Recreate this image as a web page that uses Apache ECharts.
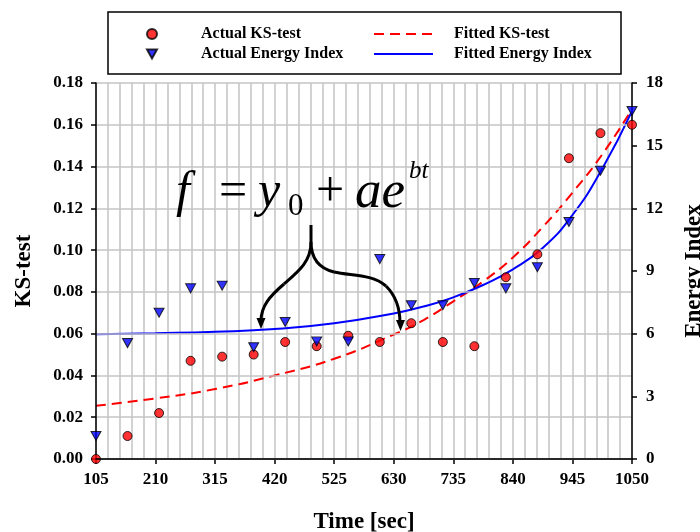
<!DOCTYPE html>
<html>
<head>
<meta charset="utf-8">
<script src="https://cdn.jsdelivr.net/npm/echarts@6/dist/echarts.min.js"></script>
<style>
  html, body { margin: 0; padding: 0; background: #fff; }
  #chart { width: 700px; height: 532px; }
</style>
</head>
<body>
<div id="chart"></div>
<script>
// time points (sec) of the measurements
var timeSec = [105, 160.6, 216.2, 271.8, 327.4, 383, 438.5, 494.1, 549.7, 605.3,
               660.9, 716.5, 772.1, 827.6, 883.2, 938.8, 994.4, 1050];
// actual KS-test values (left axis)
var ksActual = [0.000, 0.011, 0.022, 0.047, 0.049, 0.050, 0.056, 0.054, 0.059, 0.056,
                0.065, 0.056, 0.054, 0.087, 0.098, 0.144, 0.156, 0.160];
// actual energy index values (right axis)
var energyActual = [1.1, 5.55, 7.0, 8.17, 8.3, 5.35, 6.56, 5.63, 5.63, 9.57,
                    7.36, 7.36, 8.43, 8.17, 9.18, 11.35, 13.8, 16.66];

// fitted curves
var fitTime = [105, 210, 315, 420, 525, 630, 682.5, 735, 787.5, 840, 892.5, 945, 997.5, 1050];
var ksFitted = [0.0255, 0.029, 0.0335, 0.040, 0.048, 0.0596, 0.0665, 0.0755, 0.085, 0.0965, 0.111, 0.1275, 0.1458, 0.1675];
var energyFitted = [5.97, 6.02, 6.09, 6.22, 6.5, 6.97, 7.3, 7.74, 8.33, 9.08, 10.1, 11.68, 13.9, 16.65];

var xTicks = {min: 105, max: 1050, step: 105};

function pairs(xs, ys) {
    var out = [];
    for (var i = 0; i < xs.length; i++) {
        out.push([xs[i], ys[i]]);
    }
    return out;
}

var serif = '"Liberation Serif", "DejaVu Serif", serif';
var labelFont = {fontFamily: serif, fontWeight: 'bold', fontSize: 17, color: '#000'};
var nameFont = {fontFamily: serif, fontWeight: 'bold', fontSize: 23, color: '#000'};
var gridGray = '#c4c4c4';

function curve(p) {
    return {
        type: 'bezierCurve', z: 10,
        shape: {x1: p[0], y1: p[1], cpx1: p[2], cpy1: p[3], cpx2: p[4], cpy2: p[5], x2: p[6], y2: p[7]},
        style: {fill: null, stroke: '#000', lineWidth: 3}
    };
}

var chart = echarts.init(document.getElementById('chart'), null, {renderer: 'canvas'});

chart.setOption({
    animation: false,
    backgroundColor: '#fff',
    grid: {
        left: 96,
        right: 68,
        top: 83,
        bottom: 73,
        containLabel: false,
        outerBoundsMode: 'none',
        show: false
    },
    legend: [
        {
            data: ['Actual KS-test', 'Actual Energy Index'],
            orient: 'vertical',
            left: 146,
            top: 25,
            padding: 0,
            itemWidth: 10,
            itemHeight: 10,
            itemGap: 2,
            textStyle: Object.assign({lineHeight: 18, padding: [0, 0, 0, 39]}, labelFont, {fontSize: 16})
        },
        {
            data: ['Fitted KS-test', 'Fitted Energy Index'],
            orient: 'vertical',
            left: 373,
            top: 25,
            padding: 0,
            itemWidth: 59,
            itemHeight: 10,
            itemGap: 2,
            itemStyle: {color: 'rgba(0,0,0,0)', borderColor: 'rgba(0,0,0,0)', borderWidth: 0},
            textStyle: Object.assign({lineHeight: 18, padding: [0, 0, 0, 16]}, labelFont, {fontSize: 16})
        }
    ],
    xAxis: [
        {
            type: 'value',
            min: xTicks.min,
            max: xTicks.max,
            interval: xTicks.step,
            name: 'Time [sec]',
            nameLocation: 'middle',
            nameGap: 52,
            nameTextStyle: nameFont,
            axisLine: {show: true, onZero: false, lineStyle: {color: '#000', width: 1.5}},
            axisTick: {show: true, inside: false, length: 5, lineStyle: {color: '#000', width: 1.5}},
            axisLabel: Object.assign({
                margin: 12,
                showMinLabel: true,
                showMaxLabel: true,
                formatter: function (v) { return String(v); }
            }, labelFont),
            splitLine: {show: true, lineStyle: {color: gridGray, width: 1.5}},
            minorTick: {show: false, splitNumber: 5},
            minorSplitLine: {show: true, lineStyle: {color: gridGray, width: 1.5}}
        },
        {
            type: 'value',
            position: 'top',
            min: xTicks.min,
            max: xTicks.max,
            interval: xTicks.step,
            z: 5,
            axisLine: {show: true, lineStyle: {color: '#000', width: 1.5}},
            axisTick: {show: false},
            axisLabel: {show: false},
            splitLine: {show: false}
        }
    ],
    yAxis: [
        {
            type: 'value',
            min: 0,
            max: 0.18,
            interval: 0.02,
            z: 4,
            name: 'KS-test',
            nameLocation: 'middle',
            nameRotate: 90,
            nameGap: 60,
            nameTextStyle: nameFont,
            axisLine: {show: true, lineStyle: {color: '#000', width: 1.5}},
            axisTick: {show: true, inside: false, length: 5, lineStyle: {color: '#000', width: 1.5}},
            axisLabel: Object.assign({
                margin: 13,
                formatter: function (v) { return v.toFixed(2); }
            }, labelFont),
            splitLine: {show: true, lineStyle: {color: gridGray, width: 1.5}}
        },
        {
            type: 'value',
            position: 'right',
            min: 0,
            max: 18,
            interval: 3,
            z: 4,
            name: 'Energy Index',
            nameLocation: 'middle',
            nameRotate: 90,
            nameGap: 51,
            nameTextStyle: nameFont,
            axisLine: {show: true, lineStyle: {color: '#000', width: 1.5}},
            axisTick: {show: true, inside: false, length: 5, lineStyle: {color: '#000', width: 1.5}},
            axisLabel: Object.assign({margin: 14}, labelFont),
            splitLine: {show: false}
        }
    ],
    series: [
        {
            name: 'Fitted KS-test',
            type: 'line',
            yAxisIndex: 0,
            smooth: 0.5,
            showSymbol: false,
            symbol: 'none',
            color: '#ff0000',
            lineStyle: {color: '#ff0000', width: 2, type: [10, 6]},
            data: pairs(fitTime, ksFitted)
        },
        {
            name: 'Fitted Energy Index',
            type: 'line',
            yAxisIndex: 1,
            smooth: 0.5,
            showSymbol: false,
            symbol: 'none',
            color: '#0000ff',
            lineStyle: {color: '#0000ff', width: 2},
            data: pairs(fitTime, energyFitted)
        },
        {
            name: 'Actual KS-test',
            type: 'scatter',
            yAxisIndex: 0,
            symbol: 'circle',
            symbolSize: 9,
            itemStyle: {color: '#ff0000', borderColor: '#000', borderWidth: 1},
            data: pairs(timeSec, ksActual),
            z: 4
        },
        {
            name: 'Actual Energy Index',
            type: 'scatter',
            yAxisIndex: 1,
            symbol: 'path://M0,0L10,0L5,9Z',
            symbolSize: [10, 9],
            itemStyle: {color: '#0000ff', borderColor: '#000', borderWidth: 1},
            data: pairs(timeSec, energyActual),
            z: 4
        }
    ],
    graphic: [
        // legend frame
        {
            type: 'rect',
            shape: {x: 108, y: 12, width: 513, height: 62},
            style: {fill: null, stroke: '#000', lineWidth: 1.5},
            z: 10
        },
        // fit formula
        {type: 'text', x: 176, y: 168, z: 10,
            style: {text: 'f', font: 'italic 50px ' + serif, fill: '#000'}},
        {type: 'text', x: 219, y: 168, z: 10,
            style: {text: '=', font: '50px ' + serif, fill: '#000'}},
        {type: 'text', x: 258, y: 168, z: 10,
            style: {text: 'y', font: 'italic 50px ' + serif, fill: '#000'}},
        {type: 'text', x: 288, y: 191, z: 10,
            style: {text: '0', font: '31px ' + serif, fill: '#000'}},
        {type: 'text', x: 316, y: 168, z: 10,
            style: {text: '+', font: '50px ' + serif, fill: '#000'}},
        {type: 'text', x: 355, y: 167, z: 10,
            style: {text: 'ae', font: 'italic 53px ' + serif, fill: '#000'}},
        {type: 'text', x: 409, y: 159, z: 10,
            style: {text: 'bt', font: 'italic 25px ' + serif, fill: '#000'}},
        // brace with arrows
        {type: 'line', z: 10, shape: {x1: 311, y1: 225, x2: 311, y2: 242},
            style: {stroke: '#000', lineWidth: 3}},
        curve([311, 242, 311, 262, 298, 272, 284, 284]),
        curve([284, 284, 270, 296, 261, 306, 261, 321]),
        curve([311, 242, 311, 258, 318, 268, 334, 272]),
        curve([334, 272, 352, 276, 372, 274, 386, 286]),
        curve([386, 286, 396, 296, 400, 308, 400, 323]),
        {
            type: 'polygon',
            z: 10,
            shape: {points: [[261, 329], [256.5, 318], [265.5, 318]]},
            style: {fill: '#000'}
        },
        {
            type: 'polygon',
            z: 10,
            shape: {points: [[400.5, 331], [396, 320], [405, 320]]},
            style: {fill: '#000'}
        }
    ]
});
</script>
</body>
</html>
